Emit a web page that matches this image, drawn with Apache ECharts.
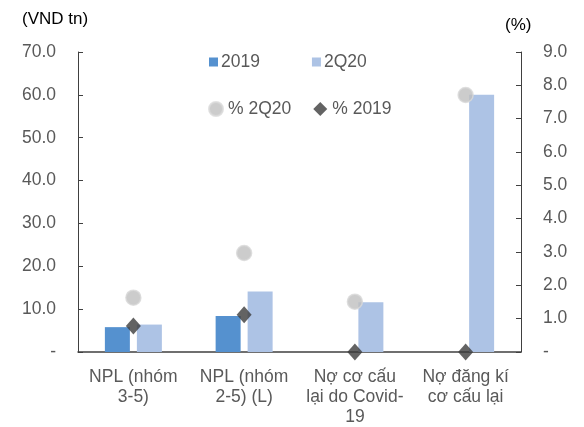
<!DOCTYPE html>
<html>
<head>
<meta charset="utf-8">
<script src="https://cdn.jsdelivr.net/npm/echarts@6/dist/echarts.min.js"></script>
<style>
  html, body { margin: 0; padding: 0; background: #fff; }
  #chart { width: 584px; height: 427px; }
</style>
</head>
<body>
<div id="chart"></div>
<script>
// danh mục và số liệu
const categories = ['NPL (nhóm\n3-5)', 'NPL (nhóm\n2-5) (L)', 'Nợ cơ cấu\nlại do Covid-\n19', 'Nợ đăng kí\ncơ cấu lại'];
const bar2019 = [5.8, 8.4, 0, 0];
const bar2Q20 = [6.4, 14.1, 11.6, 60.0];
const pct2Q20 = [1.63, 2.97, 1.51, 7.71];
const pct2019 = [0.78, 1.12, 0, 0];
const leftTicks = [0, 10, 20, 30, 40, 50, 60, 70];
const rightTicks = [0, 1, 2, 3, 4, 5, 6, 7, 8, 9];

const font = 'Liberation Sans, Arial, sans-serif';
const gray = '#595959';
const axisColor = '#404040';

function fmt(v) {
  return v === 0 ? '-' : v.toFixed(1);
}

const myChart = echarts.init(document.getElementById('chart'), null, { renderer: 'canvas' });

const options = {
  animation: false,
  textStyle: { fontFamily: font },
  graphic: [
    { type: 'text', left: 22, top: 11, style: { text: '(VND tn)', font: '17px ' + font, fill: '#000' } },
    { type: 'text', left: 505, top: 17, style: { text: '(%)', font: '17px ' + font, fill: '#000' } }
  ],
  legend: [
    {
      data: [{ name: '2019', icon: 'rect' }, { name: '2Q20', icon: 'rect' }],
      left: 204, top: 48,
      itemWidth: 9, itemHeight: 9, itemGap: 52,
      textStyle: { fontSize: 17.5, color: gray, padding: [0, 0, 0, -2] }
    },
    {
      data: [{ name: '% 2Q20', icon: 'circle' }, { name: '% 2019', icon: 'diamond' }],
      left: 203, top: 95,
      itemWidth: 14, itemHeight: 14, itemGap: 22,
      textStyle: { fontSize: 17.5, color: gray }
    }
  ],
  grid: { left: 78, right: 63, top: 52, bottom: 71, containLabel: false },
  xAxis: {
    type: 'category',
    data: categories,
    boundaryGap: true,
    axisLine: { lineStyle: { color: axisColor, width: 1.5 } },
    axisTick: { inside: true, length: 6, lineStyle: { color: axisColor } },
    axisLabel: { interval: 0, fontSize: 17.5, color: gray, lineHeight: 20, margin: 15 }
  },
  yAxis: [
    {
      type: 'value', min: 0, max: 70, interval: 10,
      axisLine: { show: true, lineStyle: { color: axisColor } },
      axisTick: { show: true, inside: true, length: 5, lineStyle: { color: axisColor } },
      splitLine: { show: false },
      axisLabel: { fontSize: 17.5, color: gray, margin: 22, formatter: fmt }
    },
    {
      type: 'value', min: 0, max: 9, interval: 1,
      axisLine: { show: true, lineStyle: { color: axisColor } },
      axisTick: { show: true, inside: true, length: 5, lineStyle: { color: axisColor } },
      splitLine: { show: false },
      axisLabel: { fontSize: 17.5, color: gray, margin: 22, formatter: fmt }
    }
  ],
  series: [
    {
      name: '2019', type: 'bar', data: bar2019,
      barWidth: 25, barGap: '28%',
      itemStyle: { color: '#5591cf' }
    },
    {
      name: '2Q20', type: 'bar', data: bar2Q20,
      barWidth: 25,
      itemStyle: { color: '#adc3e5' }
    },
    {
      name: '% 2Q20', type: 'scatter', yAxisIndex: 1, data: pct2Q20,
      symbol: 'circle', symbolSize: 15,
      itemStyle: { color: '#bfbfbf', borderColor: '#d9d9d9', borderWidth: 1.5 },
      z: 5
    },
    {
      name: '% 2019', type: 'scatter', yAxisIndex: 1, data: pct2019,
      symbol: 'diamond', symbolSize: [15, 17],
      itemStyle: { color: '#3c3c3c' },
      z: 6
    }
  ]
};

myChart.setOption(options);
</script>
</body>
</html>
